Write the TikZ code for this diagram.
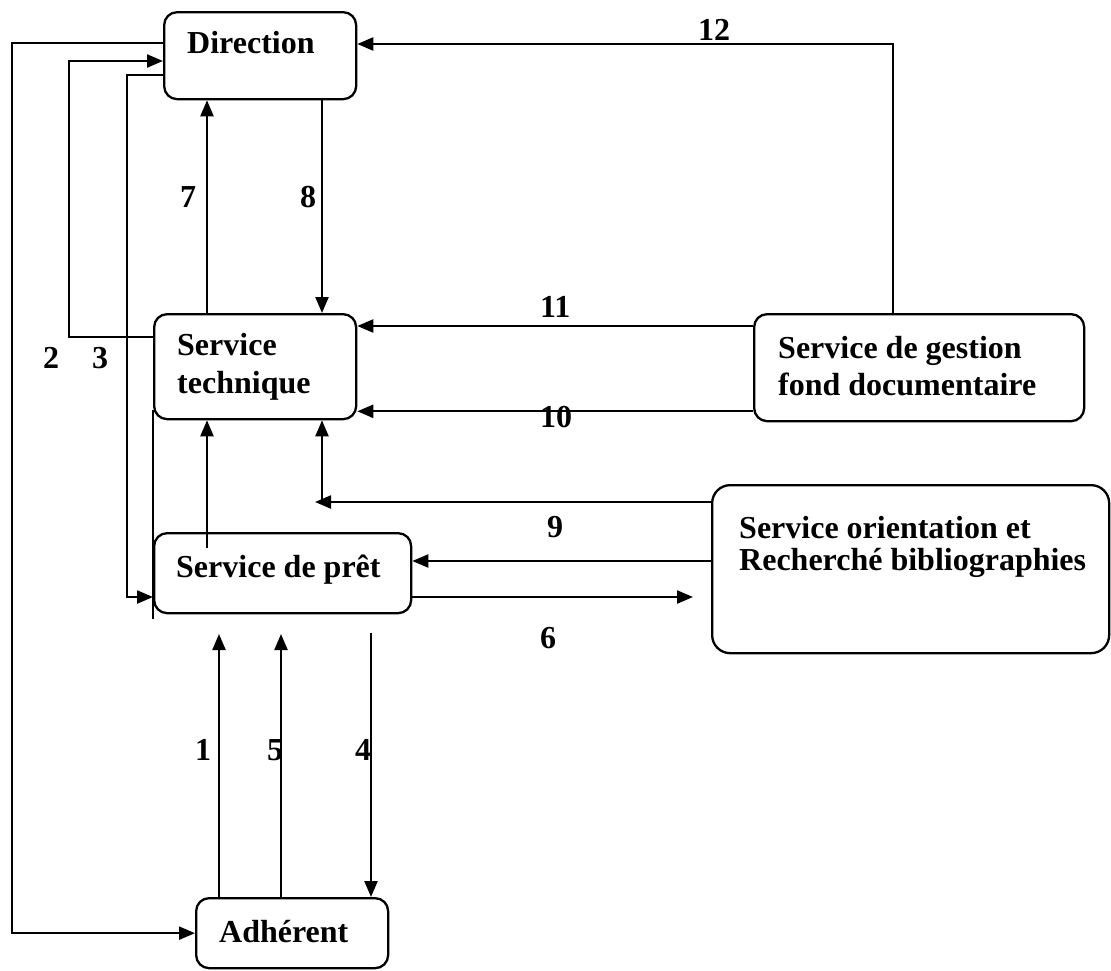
\documentclass[tikz,border=0pt]{standalone}
\usepackage{fontspec}
\setmainfont{Liberation Serif}
\usetikzlibrary{arrows.meta}
\begin{document}
\begin{tikzpicture}[x=1pt,y=-1pt,
  box/.style={draw, line width=2.3pt, rounded corners=13pt, inner sep=0pt, anchor=north west},
  txt/.style={inner sep=0pt, anchor=base west, font=\fontsize{32}{37}\selectfont\bfseries},
  wire/.style={line width=2.3pt},
  arr/.style={wire, -{Triangle[length=16pt,width=13pt]}}]
\useasboundingbox (0,0) rectangle (1111,970);

% boxes
\node[box, minimum width=192pt, minimum height=87pt] (dir) at (163,11) {};
\node[box, minimum width=202pt, minimum height=105pt] (tech) at (153,313) {};
\node[box, minimum width=330pt, minimum height=107pt] (gest) at (753,313) {};
\node[box, minimum width=257pt, minimum height=80pt] (pret) at (153,532) {};
\node[box, minimum width=397pt, minimum height=168pt, rounded corners=18pt] (orient) at (711,484) {};
\node[box, minimum width=192pt, minimum height=70pt] (adh) at (195,897) {};

% box texts
\node[txt] (dirT) at (187,53) {Direction};
\node[txt] (techT1) at (177,355) {Service};
\node[txt] (techT2) at (177,393) {technique};
\node[txt] (gestT1) at (778,358) {Service de gestion};
\node[txt] (gestT2) at (778,395) {fond documentaire};
\node[txt] (pretT) at (176,577) {Service de prêt};
\node[txt] (orientT1) at (739,538) {Service orientation et};
\node[txt] (orientT2) at (739,570) {Recherché bibliographies};
\node[txt] (adhT) at (219,942) {Adhérent};

% flows on the left side
\draw[arr] ([yshift=-32pt]dir.north west) -- ++(-151,0) |- (adh.west);
\draw[arr] ([yshift=-24pt]tech.north west) -- ++(-84,0) |- ([yshift=-50pt]dir.north west);
\draw[arr] ([yshift=-64pt]dir.north west) -- ++(-36,0) |- ([yshift=-65pt]pret.north west);
\draw[wire] ([yshift=10pt]tech.south west) -- ([yshift=-5pt]pret.south west);

% direction <-> service technique
\draw[arr] ([xshift=54pt]tech.north west) -- ([xshift=44pt]dir.south west);
\draw[arr] ([xshift=159pt]dir.south west) -- ([xshift=169pt]tech.north west);

% service de gestion
\draw[arr] ([xshift=140pt]gest.north west) |- ([yshift=-33pt]dir.north east);
\coordinate (g11) at ([yshift=-13pt]gest.north west);
\draw[arr] (g11) -- (tech.east |- g11);
\coordinate (g10) at ([yshift=11pt]gest.south west);
\draw[arr] (g10) -- (tech.east |- g10);

% service orientation
\coordinate (o1) at ([yshift=-18pt]orient.north west);
\coordinate (tU) at ([xshift=169pt]tech.south west);
\coordinate (o1end) at ([xshift=-7pt]tU |- o1);
\draw[arr] (o1) -- (o1end);
\draw[arr] (tU |- o1) -- (tU);
\coordinate (o2) at ([yshift=-77pt]orient.north west);
\draw[arr] (o2) -- (pret.east |- o2);
\coordinate (p6) at ([yshift=-65pt]pret.north east);
\coordinate (p6end) at ([xshift=-18pt]orient.west |- p6);
\draw[arr] (p6) -- (p6end);

% service de pret -> service technique
\draw[arr] ([xshift=54pt,yshift=-16pt]pret.north west) -- ([xshift=54pt]tech.south west);

% adherent <-> service de pret
\coordinate (a1) at ([xshift=24pt]adh.north west);
\coordinate (a1end) at ([yshift=263pt]a1);
\draw[arr] (a1) -- (a1end);
\coordinate (a5) at ([xshift=86pt]adh.north west);
\coordinate (a5end) at ([yshift=263pt]a5);
\draw[arr] (a5) -- (a5end);
\coordinate (a4) at ([xshift=176pt]adh.north west);
\coordinate (a4start) at ([yshift=264pt]a4);
\draw[arr] (a4start) -- (a4);

% flow numbers
\node[txt] (n12) at (698,40) {12};
\node[txt] (n7) at (180,207) {7};
\node[txt] (n8) at (300,207) {8};
\node[txt] (n11) at (540,317) {11};
\node[txt] (n10) at (540,427) {10};
\node[txt] (n2) at (43,368) {2};
\node[txt] (n3) at (92,368) {3};
\node[txt] (n9) at (547,537) {9};
\node[txt] (n6) at (540,648) {6};
\node[txt] (n1) at (195,760) {1};
\node[txt] (n5) at (267,760) {5};
\node[txt] (n4) at (355,760) {4};
\end{tikzpicture}
\end{document}
